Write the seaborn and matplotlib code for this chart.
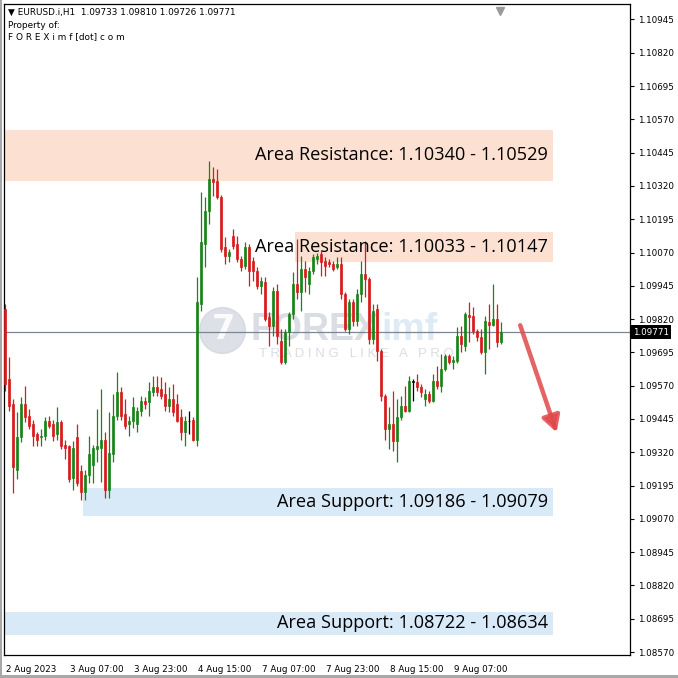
import numpy as np
import pandas as pd
import seaborn as sns
import matplotlib.pyplot as plt
import matplotlib.transforms as mtrans
from matplotlib.patches import Rectangle

sns.set_theme(style="white")
plt.rcParams['font.family'] = ['DejaVu Sans']

# EURUSD H1 candles (oldest first)
opens = [
    1.09858, 1.09594, 1.09500, 1.09255, 1.09376, 1.09500, 1.09455, 1.09425, 1.09387, 1.09376,
    1.09380, 1.09436, 1.09425, 1.09387, 1.09432, 1.09346, 1.09342, 1.09225, 1.09376, 1.09248,
    1.09172, 1.09236, 1.09274, 1.09331, 1.09338, 1.09368, 1.09180, 1.09312, 1.09455, 1.09545,
    1.09462, 1.09425, 1.09436, 1.09425, 1.09474, 1.09511, 1.09507, 1.09545, 1.09564, 1.09556,
    1.09538, 1.09492, 1.09519, 1.09500, 1.09451, 1.09395, 1.09436, 1.09443, 1.09368, 1.09876,
    1.10102, 1.10227, 1.10347, 1.10340, 1.10279, 1.10091, 1.10057, 1.10132, 1.10102, 1.10046,
    1.10020, 1.10091, 1.10038, 1.10001, 1.09944, 1.09959, 1.09828, 1.09794, 1.09925, 1.09737,
    1.09658, 1.09771, 1.09839, 1.09952, 1.09922, 1.10008, 1.09952, 1.10001, 1.10046, 1.10065,
    1.10038, 1.10035, 1.10027, 1.10016, 1.10027, 1.09914, 1.09782, 1.09884, 1.09812, 1.09914,
    1.09989, 1.09971, 1.09745, 1.09858, 1.09700, 1.09530, 1.09406, 1.09425, 1.09361, 1.09451,
    1.09492, 1.09474, 1.09583, 1.09583, 1.09564, 1.09519, 1.09538, 1.09511, 1.09587, 1.09568,
    1.09632, 1.09681, 1.09658, 1.09662, 1.09756, 1.09718, 1.09835, 1.09831, 1.09775, 1.09752,
    1.09696, 1.09809, 1.09797, 1.09820, 1.09733]
highs = [
    1.09876, 1.09677, 1.09519, 1.09470, 1.09526, 1.09568, 1.09481, 1.09443, 1.09395, 1.09406,
    1.09451, 1.09455, 1.09443, 1.09489, 1.09443, 1.09368, 1.09349, 1.09361, 1.09425, 1.09274,
    1.09255, 1.09380, 1.09349, 1.09481, 1.09556, 1.09395, 1.09470, 1.09538, 1.09620, 1.09564,
    1.09519, 1.09455, 1.09526, 1.09489, 1.09530, 1.09526, 1.09583, 1.09605, 1.09605, 1.09602,
    1.09583, 1.09564, 1.09575, 1.09538, 1.09481, 1.09455, 1.09474, 1.09451, 1.09978, 1.10298,
    1.10279, 1.10415, 1.10392, 1.10385, 1.10287, 1.10129, 1.10084, 1.10159, 1.10132, 1.10057,
    1.10110, 1.10102, 1.10053, 1.10016, 1.09978, 1.09978, 1.09846, 1.09940, 1.09952, 1.09782,
    1.09782, 1.09846, 1.09997, 1.10121, 1.10057, 1.10038, 1.10016, 1.10065, 1.10068, 1.10076,
    1.10053, 1.10046, 1.10038, 1.10053, 1.10053, 1.09922, 1.09895, 1.09895, 1.09933, 1.10038,
    1.10114, 1.09978, 1.09876, 1.09876, 1.09707, 1.09538, 1.09489, 1.09549, 1.09519, 1.09530,
    1.09568, 1.09605, 1.09594, 1.09613, 1.09575, 1.09556, 1.09549, 1.09613, 1.09643, 1.09688,
    1.09688, 1.09688, 1.09681, 1.09790, 1.09794, 1.09846, 1.09884, 1.09865, 1.09782, 1.09782,
    1.09831, 1.09876, 1.09952, 1.09876, 1.09810]
lows = [
    1.09549, 1.09474, 1.09169, 1.09218, 1.09357, 1.09432, 1.09406, 1.09342, 1.09342, 1.09342,
    1.09368, 1.09413, 1.09361, 1.09368, 1.09331, 1.09293, 1.09210, 1.09180, 1.09195, 1.09142,
    1.09142, 1.09206, 1.09206, 1.09282, 1.09210, 1.09150, 1.09150, 1.09285, 1.09443, 1.09443,
    1.09406, 1.09380, 1.09413, 1.09395, 1.09455, 1.09481, 1.09455, 1.09530, 1.09530, 1.09519,
    1.09474, 1.09470, 1.09455, 1.09432, 1.09368, 1.09342, 1.09387, 1.09364, 1.09342, 1.09850,
    1.10016, 1.10178, 1.10283, 1.10272, 1.10072, 1.10027, 1.10035, 1.10084, 1.10035, 1.10001,
    1.10008, 1.09944, 1.09963, 1.09933, 1.09914, 1.09812, 1.09718, 1.09756, 1.09726, 1.09651,
    1.09651, 1.09718, 1.09820, 1.09895, 1.09850, 1.09922, 1.09914, 1.09989, 1.10027, 1.09982,
    1.09982, 1.10016, 1.10001, 1.10008, 1.09895, 1.09775, 1.09763, 1.09794, 1.09794, 1.09884,
    1.09903, 1.09726, 1.09726, 1.09662, 1.09511, 1.09368, 1.09331, 1.09323, 1.09282, 1.09443,
    1.09470, 1.09470, 1.09511, 1.09549, 1.09526, 1.09492, 1.09504, 1.09507, 1.09556, 1.09545,
    1.09624, 1.09651, 1.09632, 1.09654, 1.09696, 1.09700, 1.09733, 1.09763, 1.09737, 1.09688,
    1.09613, 1.09707, 1.09794, 1.09715, 1.09726]
closes = [
    1.09575, 1.09492, 1.09263, 1.09376, 1.09500, 1.09451, 1.09417, 1.09380, 1.09368, 1.09383,
    1.09436, 1.09417, 1.09380, 1.09432, 1.09342, 1.09338, 1.09218, 1.09338, 1.09206, 1.09172,
    1.09236, 1.09312, 1.09338, 1.09342, 1.09368, 1.09180, 1.09319, 1.09455, 1.09545, 1.09455,
    1.09417, 1.09436, 1.09489, 1.09474, 1.09511, 1.09500, 1.09549, 1.09564, 1.09545, 1.09530,
    1.09492, 1.09519, 1.09470, 1.09436, 1.09395, 1.09436, 1.09436, 1.09368, 1.09884, 1.10110,
    1.10227, 1.10347, 1.10336, 1.10279, 1.10084, 1.10057, 1.10072, 1.10095, 1.10046, 1.10016,
    1.10091, 1.10001, 1.10001, 1.09944, 1.09963, 1.09820, 1.09794, 1.09925, 1.09756, 1.09658,
    1.09771, 1.09839, 1.09952, 1.09922, 1.10008, 1.09978, 1.10001, 1.10053, 1.10057, 1.10035,
    1.10020, 1.10027, 1.10008, 1.10027, 1.09914, 1.09782, 1.09884, 1.09812, 1.09914, 1.09989,
    1.09971, 1.09745, 1.09850, 1.09700, 1.09530, 1.09406, 1.09425, 1.09361, 1.09451, 1.09492,
    1.09474, 1.09587, 1.09583, 1.09564, 1.09545, 1.09538, 1.09511, 1.09587, 1.09568, 1.09632,
    1.09681, 1.09658, 1.09666, 1.09756, 1.09726, 1.09839, 1.09828, 1.09775, 1.09752, 1.09696,
    1.09812, 1.09797, 1.09820, 1.09733, 1.09771]

# time axis labels (every 16 bars)
time_tick_bars = [0, 16, 32, 48, 64, 80, 96, 112]
time_tick_labels = ['2 Aug 2023', '3 Aug 07:00', '3 Aug 23:00', '4 Aug 15:00',
                    '7 Aug 07:00', '7 Aug 23:00', '8 Aug 15:00', '9 Aug 07:00']

price_ticks = [1.08570, 1.08695, 1.08820, 1.08945, 1.09070, 1.09195, 1.09320,
               1.09445, 1.09570, 1.09695, 1.09820, 1.09945, 1.10070, 1.10195,
               1.10320, 1.10445, 1.10570, 1.10695, 1.10820, 1.10945]
last_price = 1.09771

# support / resistance zones
zone_names = ['Area Resistance', 'Area Resistance', 'Area Support', 'Area Support']
zone_low = [1.10340, 1.10033, 1.09079, 1.08634]
zone_high = [1.10529, 1.10147, 1.09186, 1.08722]
zone_first_bar = [-1, 73, 20, -1]
zone_last_bar = 137

header_text = '\u25bc EURUSD.i,H1  1.09733 1.09810 1.09726 1.09771'

df = pd.DataFrame({'open': opens, 'high': highs, 'low': lows, 'close': closes})
df['bar'] = np.arange(len(df))
df['body'] = df['close'] - df['open']

green = '#1a841a'
red = '#d61c1c'
res_color = '#fce0d2'
sup_color = '#d8e9f8'

W, H = 678, 678
fig = plt.figure(figsize=(W / 100, H / 100), dpi=100)
fig.patch.set_facecolor('white')
ax = fig.add_axes([4 / W, 23 / H, 626 / W, 651 / H])
ax.set_facecolor('white')

# zones
for name, lo, hi, x0 in zip(zone_names, zone_low, zone_high, zone_first_bar):
    c = res_color if 'Resistance' in name else sup_color
    ax.add_patch(Rectangle((x0 - 0.5, lo), zone_last_bar - x0 + 0.5, hi - lo,
                           facecolor=c, edgecolor='none', zorder=0))

# watermark
ax.plot([54.3], [1.09780], marker='o', ms=33, color='#cdd0db', alpha=0.65, zorder=0.5)
ax.text(54.6, 1.09782, '7', fontsize=24, fontweight='bold', color='white',
        ha='center', va='center', zorder=0.6, alpha=0.9)
ax.text(61.3, 1.09780, 'FOREX', fontsize=27, fontweight='bold', color='#c8cbd6',
        family='Liberation Sans', ha='left', va='center', alpha=0.65, zorder=0.5)
ax.text(94.2, 1.09780, 'imf', fontsize=27, fontweight='bold', color='#d3e4f1',
        family='Liberation Sans', ha='left', va='center', alpha=0.75, zorder=0.5)
ax.text(63.5, 1.09688, 'T R A D I N G   L I K E   A   P R O', fontsize=9.5, color='#d6d9e0',
        family='Liberation Sans', ha='left', va='center', alpha=0.9, zorder=0.5)

# current price line
ax.axhline(last_price, color='#7c8796', lw=0.9, zorder=1)

# candles
for mask, col in [(df.body > 0, green), (df.body < 0, red), (df.body == 0, 'black')]:
    d = df[mask]
    ax.vlines(d['bar'], d['low'], d['high'], color=col, lw=0.9, zorder=2)
    h = d['body'].where(d['body'] != 0, 0.00003)
    ax.bar(d['bar'], h, bottom=d['open'], width=0.62, color=col,
           edgecolor=col, linewidth=0.5, zorder=3)

# zone labels
for name, lo, hi in zip(zone_names, zone_low, zone_high):
    a, b = (lo, hi) if 'Resistance' in name else (hi, lo)
    ax.text(135.8, (lo + hi) / 2, f'{name}: {a:.5f} - {b:.5f}', fontsize=13.1,
            family='Open Sans', color='black', ha='right', va='center', zorder=4)

# forecast arrow
ax.annotate('', xy=(137.9, 1.09395), xytext=(128.8, 1.09797),
            arrowprops=dict(arrowstyle='-|>,head_length=0.8,head_width=0.45',
                            color='#e0484a', lw=3.2, alpha=0.85, shrinkA=0, shrinkB=0),
            zorder=4)

ax.set_xlim(-0.25, 156.25)
ax.set_ylim(1.08559, 1.11003)

# axes styling, MetaTrader look
for s in ax.spines.values():
    s.set_color('black')
    s.set_linewidth(0.9)
ax.yaxis.tick_right()
ax.set_yticks(price_ticks)
ax.set_yticklabels([f'{p:.5f}' for p in price_ticks])
ax.set_xticks(time_tick_bars)
ax.set_xticklabels(time_tick_labels, ha='left')
ax.tick_params(axis='y', direction='out', length=3, width=0.8, colors='black',
               labelsize=6.3, pad=3)
ax.tick_params(axis='x', direction='out', length=4, width=0.8, colors='black',
               labelsize=6.3, pad=3)
offset = mtrans.ScaledTranslation(1 / 100, 0, fig.dpi_scale_trans)
for lab in ax.get_xticklabels():
    lab.set_transform(lab.get_transform() + offset)
ax.grid(False)

# last price box
trans = mtrans.blended_transform_factory(ax.transAxes, ax.transData)
ax.text(1.0 + 3 / 626, last_price, f'{last_price:.5f}', transform=trans, fontsize=6.3,
        color='white', ha='left', va='center', zorder=5,
        bbox=dict(facecolor='black', edgecolor='none', pad=1.6))

# chart shift marker
ax.plot([123.75], [1.10975], marker='v', ms=6, color='#9a9a9a', clip_on=False, zorder=5)

# header
fig.text(8 / W, 1 - 12 / H, header_text, fontsize=6.4, color='black', ha='left', va='center')
fig.text(8 / W, 1 - 25 / H, 'Property of:', fontsize=6.4, color='black', ha='left', va='center')
fig.text(8 / W, 1 - 37 / H, 'F O R E X i m f [dot] c o m', fontsize=6.4, color='black',
         ha='left', va='center')

# window frame
fig.patches.append(Rectangle((0, 0), 1, 3 / H, transform=fig.transFigure,
                             facecolor='#a8a8a8', edgecolor='none'))
fig.patches.append(Rectangle((0, 0), 2 / W, 1, transform=fig.transFigure,
                             facecolor='#a8a8a8', edgecolor='none'))

fig.savefig('out.png', dpi=100)
